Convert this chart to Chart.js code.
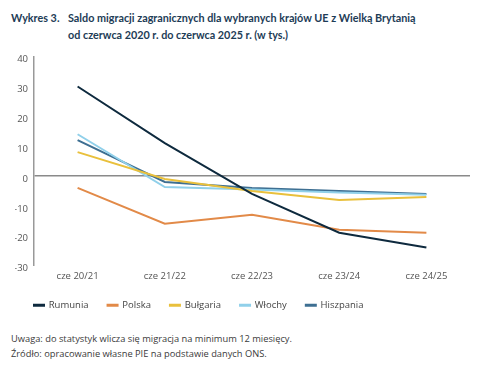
<!DOCTYPE html>
<html>
<head>
<meta charset="utf-8">
<script src="https://cdn.jsdelivr.net/npm/chart.js@4.4.1/dist/chart.umd.min.js"></script>
<style>
  body { margin:0; background:#fff; width:495px; height:370px; position:relative; overflow:hidden; font-family:"Open Sans", sans-serif; }
  .title { position:absolute; left:11px; top:9px; font-family:Lato, sans-serif; font-weight:bold; font-size:10.8px; color:#1d3c56; line-height:17px; white-space:nowrap; }
  .title .num { position:absolute; left:0; top:0; }
  .title .txt { position:absolute; left:57px; top:0; }
  #box { position:absolute; left:0; top:45px; width:470px; height:275px; }
  .note { position:absolute; left:11px; top:331px; font-size:9.3px; color:#3a3a3a; line-height:15px; }
</style>
</head>
<body>
<div class="title"><span class="num">Wykres 3.</span><span class="txt">Saldo migracji zagranicznych dla wybranych krajów UE z Wielką Brytanią<br>od czerwca 2020 r. do czerwca 2025 r. (w tys.)</span></div>
<div id="box"><canvas id="myChart"></canvas></div>
<div class="note">Uwaga: do statystyk wlicza się migracja na minimum 12 miesięcy.<br>Źródło: opracowanie własne PIE na podstawie danych ONS.</div>
<script>
// dane
const labels = ["cze 20/21", "cze 21/22", "cze 22/23", "cze 23/24", "cze 24/25"];
const rumunia = [30, 11, -6, -19, -24];
const polska = [-4, -16, -13, -18, -19];
const bulgaria = [8, -1, -5, -8, -7];
const wlochy = [14, -3.7, -4.5, -5.5, -6.3];
const hiszpania = [12, -2, -4, -5, -6];
const yTicks = [40, 30, 20, 10, 0, -10, -20, -30];

function ds(label, data, color) {
  return { label: label, data: data, borderColor: color, backgroundColor: color, borderWidth: 2, pointRadius: 0, tension: 0 };
}

const ctx = document.getElementById('myChart').getContext('2d');
const chart = new Chart(ctx, {
  type: 'line',
  data: {
    labels: labels,
    datasets: [
      ds('Rumunia', rumunia, '#0e2a3e'),
      ds('Polska', polska, '#e28a48'),
      ds('Bułgaria', bulgaria, '#e9c03c'),
      ds('Włochy', wlochy, '#90d0ea'),
      ds('Hiszpania', hiszpania, '#3e6f92')
    ]
  },
  options: {
    responsive: true,
    maintainAspectRatio: false,
    animation: false,
    layout: { padding: { left: 15, right: 0, top: 6, bottom: 0 } },
    plugins: {
      tooltip: { enabled: false },
      legend: {
        position: 'bottom',
        align: 'start',
        labels: {
          boxWidth: 10, boxHeight: 1, padding: 19,
          color: '#444', font: { family: 'Open Sans', size: 9.5 }
        }
      }
    },
    scales: {
      x: {
        offset: true,
        afterFit: function(s) { s.height = 16; },
        border: { display: false },
        grid: { display: false },
        ticks: { color: '#555', font: { family: 'Open Sans', size: 9.5 }, padding: -3 }
      },
      y: {
        min: -30, max: 40,
        afterFit: function(s) { s.width = 19; },
        afterBuildTicks: function(s) { s.ticks = yTicks.map(v => ({ value: v })); },
        border: { display: true, color: '#999', width: 1.5 },
        grid: {
          drawTicks: false,
          color: c => c.tick && c.tick.value === 0 ? '#8a8a8a' : 'rgba(0,0,0,0)',
          lineWidth: c => c.tick && c.tick.value === 0 ? 1.5 : 0
        },
        ticks: { color: '#555', font: { family: 'Open Sans', size: 9.5 }, padding: 6, labelOffset: 3 }
      }
    }
  }
});
</script>
</body>
</html>
